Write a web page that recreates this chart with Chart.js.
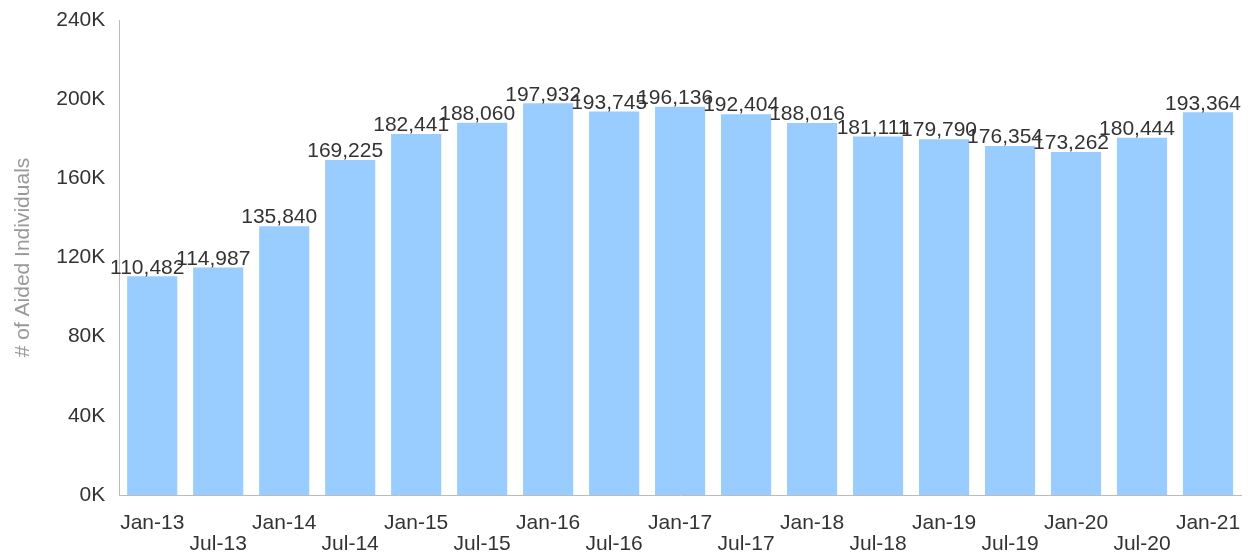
<!DOCTYPE html>
<html>
<head>
<meta charset="utf-8">
<script src="https://cdn.jsdelivr.net/npm/chart.js@4/dist/chart.umd.min.js"></script>
<style>
  html, body { margin: 0; padding: 0; background: #fff; }
  #wrap { width: 1252px; height: 556px; position: relative; }
</style>
</head>
<body>
<div id="wrap"><canvas id="aidChart"></canvas></div>
<script>
const periods = ['Jan-13', 'Jul-13', 'Jan-14', 'Jul-14', 'Jan-15', 'Jul-15', 'Jan-16', 'Jul-16', 'Jan-17',
    'Jul-17', 'Jan-18', 'Jul-18', 'Jan-19', 'Jul-19', 'Jan-20', 'Jul-20', 'Jan-21'];
const aidedIndividuals = [110482, 114987, 135840, 169225, 182441, 188060, 197932, 193745, 196136,
    192404, 188016, 181111, 179790, 176354, 173262, 180444, 193364];
const yTicks = [0, 40000, 80000, 120000, 160000, 200000, 240000];

const FONT = '"Liberation Sans", Arial, sans-serif';

// draw the value above each bar (no datalabels plugin available)
// labels sit a little left of the bar centre in the original
const barValueLabels = {
    id: 'barValueLabels',
    afterDatasetsDraw(chart) {
        const c = chart.ctx;
        const meta = chart.getDatasetMeta(0);
        c.save();
        c.font = '21px ' + FONT;
        c.fillStyle = '#333333';
        c.textAlign = 'center';
        c.textBaseline = 'bottom';
        meta.data.forEach((bar, i) => {
            c.fillText(aidedIndividuals[i].toLocaleString('en-US'), bar.x - 5, bar.y + 2);
        });
        c.restore();
    }
};

const ctx = document.getElementById('aidChart').getContext('2d');

let aidChart = new Chart(ctx, {
    type: 'bar',
    data: {
        labels: periods,
        datasets: [{
            label: '# of Aided Individuals',
            data: aidedIndividuals,
            backgroundColor: '#99ccff',
            barPercentage: 0.76,
            categoryPercentage: 1.0
        }]
    },
    options: {
        responsive: true,
        maintainAspectRatio: false,
        animation: false,
        layout: { padding: { top: 20, right: 11, left: 11, bottom: 0 } },
        plugins: {
            legend: { display: false },
            tooltip: { enabled: false }
        },
        scales: {
            x: {
                afterFit: axis => {
                    axis.height = 61;
                    axis.paddingLeft = 0;
                    axis.paddingRight = 0;
                },
                grid: { display: false, drawTicks: false },
                border: { color: '#bbbbbb', width: 1 },
                ticks: {
                    color: '#333333',
                    font: { family: FONT, size: 21, lineHeight: 1.0 },
                    maxRotation: 0,
                    autoSkip: false,
                    padding: 18,
                    // stagger the labels on two rows
                    callback: function (val, i) {
                        const l = periods[i];
                        return i % 2 === 0 ? [l, ''] : ['', l];
                    }
                }
            },
            y: {
                min: 0,
                max: 240000,
                afterBuildTicks: axis => { axis.ticks = yTicks.map(v => ({ value: v })); },
                afterFit: axis => {
                    axis.paddingTop = 0;
                    axis.paddingBottom = 0;
                },
                grid: { display: false, drawTicks: false },
                border: { color: '#bbbbbb', width: 1 },
                title: {
                    display: true,
                    text: '# of Aided Individuals',
                    color: '#999999',
                    font: { family: FONT, size: 21 },
                    padding: { top: 0, bottom: 6 }
                },
                ticks: {
                    color: '#333333',
                    font: { family: FONT, size: 21 },
                    padding: 14,
                    callback: v => (v / 1000) + 'K'
                }
            }
        }
    },
    plugins: [barValueLabels]
});
</script>
</body>
</html>
